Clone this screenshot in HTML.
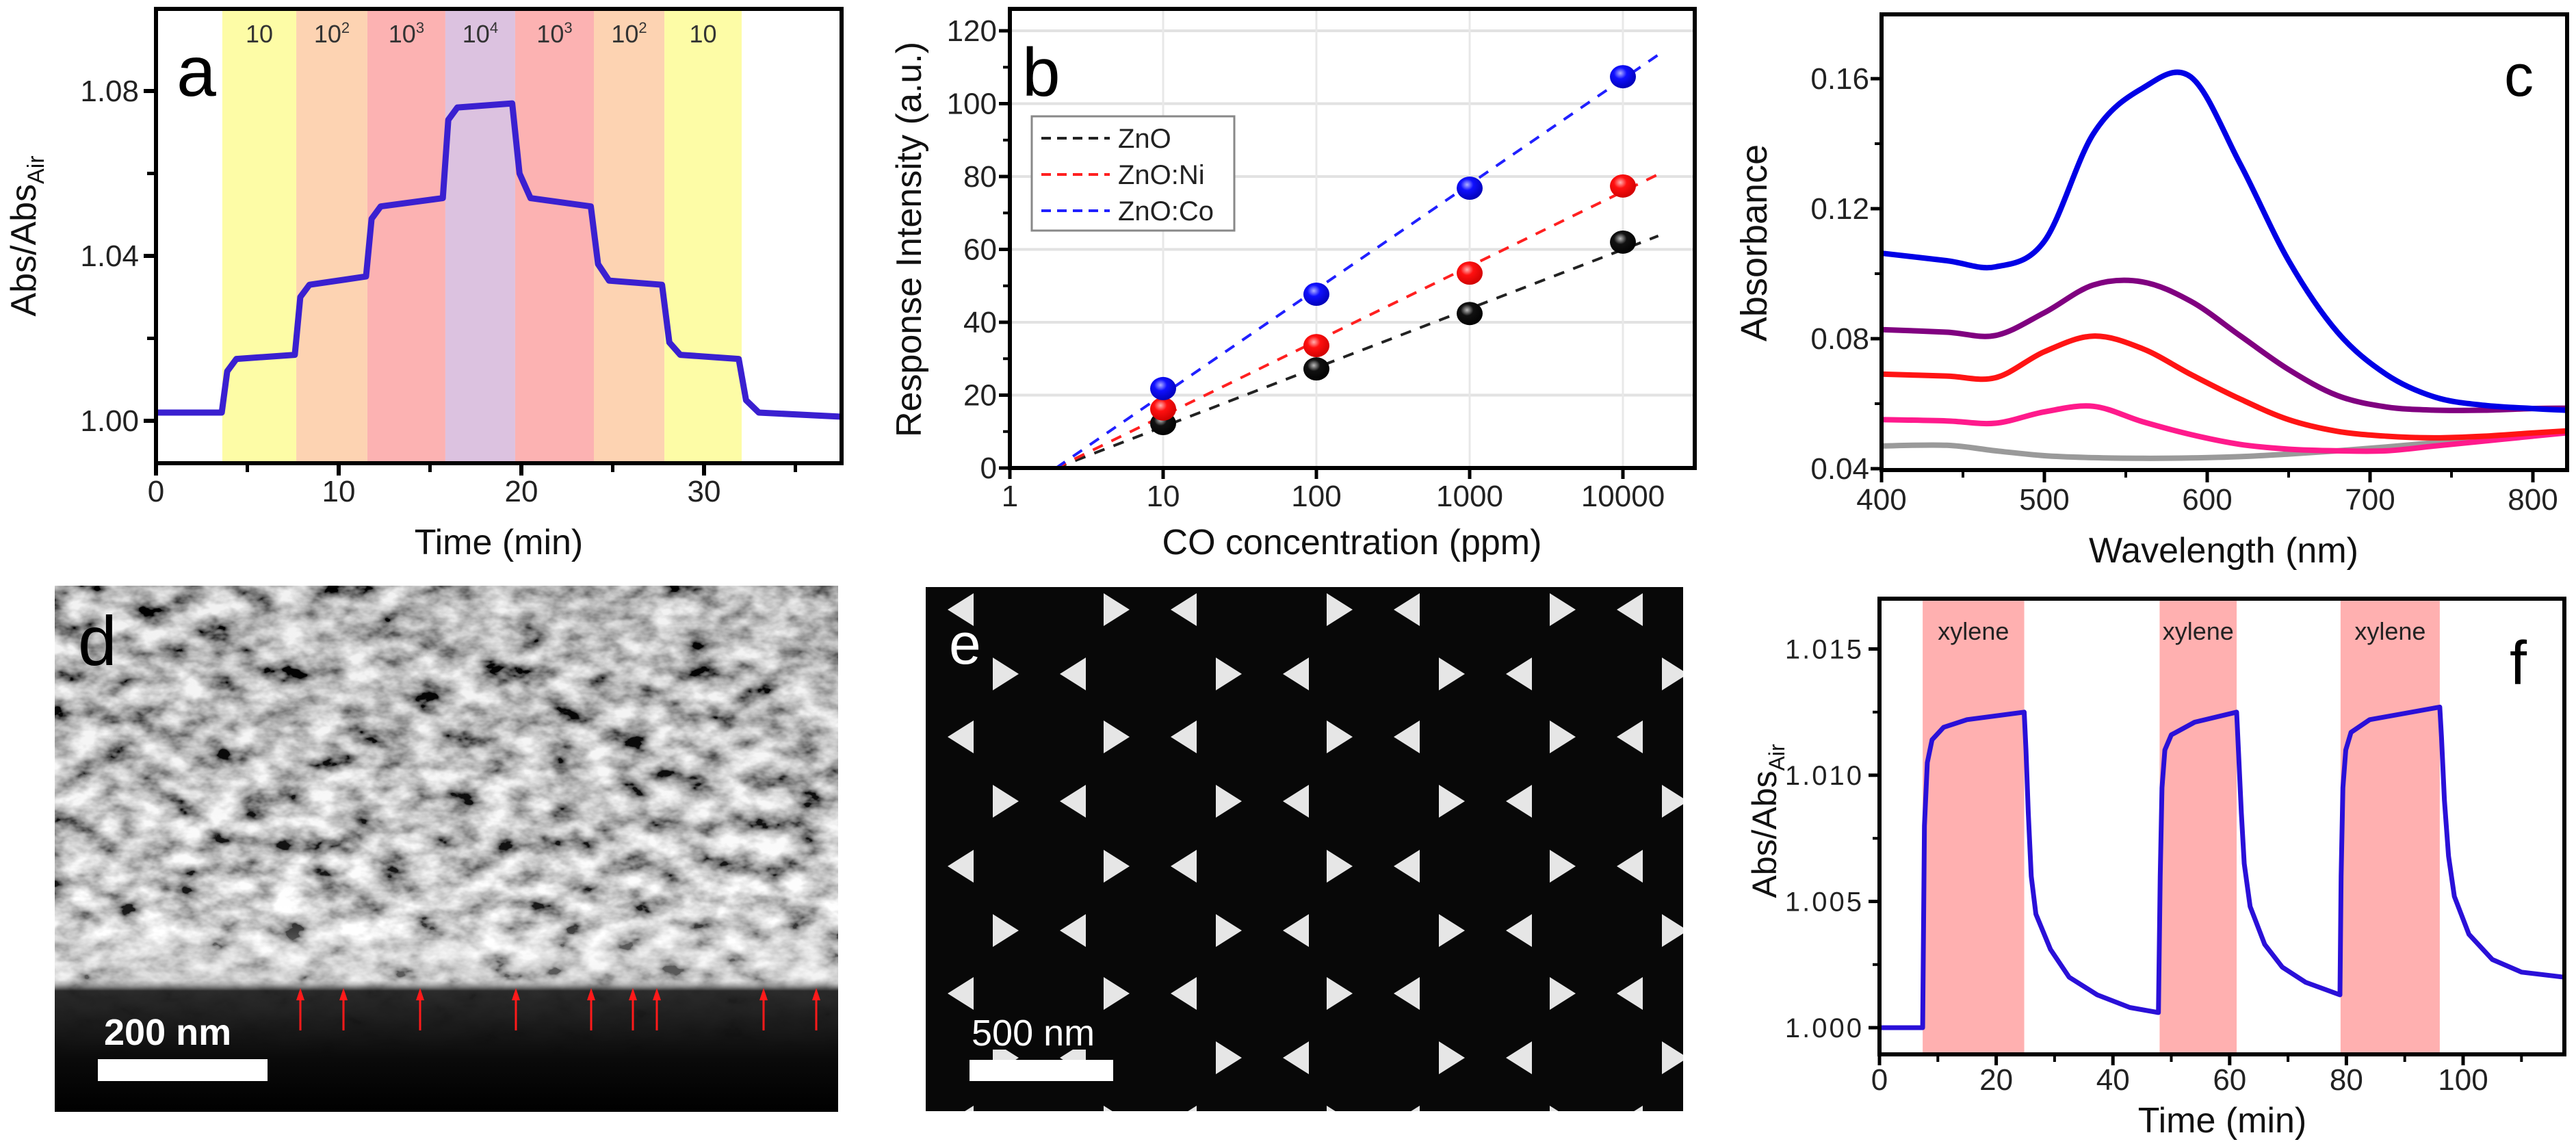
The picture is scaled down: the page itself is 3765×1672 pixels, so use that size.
<!DOCTYPE html>
<html><head><meta charset="utf-8"><title>Sensor figure</title>
<style>
html,body{margin:0;padding:0;background:#fff;}
svg{display:block;}
text{font-family:"Liberation Sans",sans-serif;}
.nar{font-family:"Liberation Sans Narrow","Liberation Sans",sans-serif;}
</style></head>
<body>
<svg id="fig" xmlns="http://www.w3.org/2000/svg" width="3765" height="1672" viewBox="0 0 3765 1672">
<defs>
<filter id="semNoise" x="0" y="0" width="100%" height="100%">
<feTurbulence type="fractalNoise" baseFrequency="0.02 0.032" numOctaves="4" seed="7"/>
<feColorMatrix type="matrix" values="1.9 0 0 0 -0.42  1.9 0 0 0 -0.42  1.9 0 0 0 -0.42  0 0 0 0 1"/>
</filter>
<linearGradient id="semShade" x1="0" y1="0" x2="0" y2="1">
<stop offset="0" stop-color="#000" stop-opacity="0.05"/>
<stop offset="0.62" stop-color="#fff" stop-opacity="0.1"/>
<stop offset="0.68" stop-color="#fff" stop-opacity="0.35"/>
<stop offset="0.75" stop-color="#ddd" stop-opacity="0.4"/>
<stop offset="0.77" stop-color="#222" stop-opacity="0.95"/>
<stop offset="0.9" stop-color="#0a0a0a" stop-opacity="1"/>
<stop offset="1" stop-color="#000" stop-opacity="1"/>
</linearGradient>
<radialGradient id="ballBlack" cx="0.4" cy="0.35" r="0.7"><stop offset="0" stop-color="#bbb"/><stop offset="0.35" stop-color="#111"/><stop offset="1" stop-color="#000"/></radialGradient>
<radialGradient id="ballRed" cx="0.4" cy="0.35" r="0.7"><stop offset="0" stop-color="#ffb0b0"/><stop offset="0.35" stop-color="#ff1010"/><stop offset="1" stop-color="#c00"/></radialGradient>
<radialGradient id="ballBlue" cx="0.4" cy="0.35" r="0.7"><stop offset="0" stop-color="#b0b0ff"/><stop offset="0.35" stop-color="#1010ff"/><stop offset="1" stop-color="#0000b0"/></radialGradient>
</defs>
</svg>
<script>
// ---------- Panel a data ----------
const aBandStart = [3.63, 7.68, 11.57, 15.84, 19.66, 23.97, 27.83];
const aBandEnd   = [7.68, 11.57, 15.84, 19.66, 23.97, 27.83, 32.06];
const aBandLabel = ["10","10|2","10|3","10|4","10|3","10|2","10"];
const aTime  = [0,3.6,3.9,4.4,7.6,7.9,8.4,11.5,11.8,12.3,15.7,16.0,16.5,19.5,19.9,20.5,23.8,24.2,24.8,27.7,28.1,28.7,31.9,32.3,33.0,37.5];
const aValue = [1.002,1.002,1.012,1.015,1.016,1.030,1.033,1.035,1.049,1.052,1.054,1.073,1.076,1.077,1.060,1.054,1.052,1.038,1.034,1.033,1.019,1.016,1.015,1.005,1.002,1.001];
const aXTicks = [0,10,20,30];
const aYTicks = [1.00,1.04,1.08];
const aYTickLabels = ["1.00","1.04","1.08"];
// ---------- Panel b data ----------
const bConc = [10,100,1000,10000];
const bZnO  = [12.2,27.2,42.4,62.0];
const bNi   = [16.2,33.6,53.5,77.4];
const bCo   = [21.8,47.7,76.8,107.4];
const bFitStart = [2,2,2];
const bFitEnd = [17000,17000,17000];
const bFitEndValue = [63.7,80.6,113.4];
const bSeriesNames = ["ZnO","ZnO:Ni","ZnO:Co"];
const bXTicks = [1,10,100,1000,10000];
const bYTicks = [0,20,40,60,80,100,120];
// ---------- Panel c data ----------
const cWave   = [400,440,470,500,530,560,590,620,650,680,710,740,770,800,820];
const cBlue   = [0.1063,0.1040,0.1021,0.1100,0.1430,0.1570,0.1605,0.1340,0.1040,0.0820,0.0690,0.0620,0.0595,0.0585,0.0580];
const cPurple = [0.0828,0.0820,0.0810,0.0880,0.0965,0.0975,0.0915,0.0810,0.0705,0.0625,0.0590,0.0580,0.0580,0.0585,0.0586];
const cRed    = [0.0691,0.0685,0.0680,0.0760,0.0808,0.0770,0.0690,0.0615,0.0551,0.0515,0.0500,0.0495,0.0500,0.0510,0.0516];
const cPink   = [0.0551,0.0547,0.0540,0.0575,0.0592,0.0545,0.0505,0.0475,0.0460,0.0455,0.0455,0.0470,0.0485,0.0500,0.0510];
const cGray   = [0.0470,0.0472,0.0455,0.0440,0.0434,0.0432,0.0433,0.0437,0.0445,0.0455,0.0467,0.0480,0.0492,0.0505,0.0514];
const cXTicks = [400,500,600,700,800];
const cYTicks = [0.04,0.08,0.12,0.16];
// ---------- Panel f data ----------
const fBandStart = [7.4, 48.0, 79.0];
const fBandEnd   = [24.8, 61.2, 96.0];
const fTime  = [0,7.4,7.7,8.2,9,11,15,24.8,25.1,25.5,26,26.8,29.3,32.5,37.3,42.9,47.8,48.1,48.4,48.9,50,54,61.2,61.5,62,62.5,63.5,66,69,73,78.9,79.1,79.4,79.9,80.8,84,96,96.3,96.8,97.5,98.5,101,105,110,117.3];
const fValue = [1.0000,1.0000,1.0080,1.0105,1.0114,1.0119,1.0122,1.0125,1.0110,1.0085,1.0060,1.0045,1.0031,1.0020,1.0013,1.0008,1.0006,1.0060,1.0095,1.0110,1.0116,1.0121,1.0125,1.0110,1.0085,1.0065,1.0048,1.0033,1.0024,1.0018,1.0013,1.0060,1.0095,1.0110,1.0117,1.0122,1.0127,1.0115,1.0090,1.0068,1.0052,1.0037,1.0027,1.0022,1.0020];
const fXTicks = [0,20,40,60,80,100];
const fYTicks = [1.000,1.005,1.010,1.015];
const fYTickLabels = ["1.000","1.005","1.010","1.015"];

const NS = "http://www.w3.org/2000/svg";
const svg = document.getElementById("fig");
function mk(tag, attrs, parent){
  const e = document.createElementNS(NS, tag);
  for (const k in attrs) e.setAttribute(k, attrs[k]);
  (parent || svg).appendChild(e);
  return e;
}
function grp(parent){ return mk("g", {}, parent); }

const xa = t => 228 + t * 26.7;
const ya = v => 615 - (v - 1.00) / 0.04 * 241;
const xb = c => 1476 + Math.log10(c) * 224;
const yb = v => 684 - v * 5.325;
const xc = w => 2750 + (w - 400) * 2.38;
const yc = a => 685 - (a - 0.04) * 4750;
const xf = t => 2747 + t * 8.53;
const yf = v => 1502 - (v - 1) / 0.005 * 184.5;

function poly(xs, ys, fx, fy){ return xs.map((x,i)=> fx(x).toFixed(1)+","+fy(ys[i]).toFixed(1)).join(" "); }
function smoothPath(xs, ys, fx, fy){
  const P = xs.map((x,i)=>[fx(x), fy(ys[i])]);
  let d = "M"+P[0][0]+","+P[0][1];
  for (let i=0;i<P.length-1;i++){
    const p0=P[Math.max(0,i-1)], p1=P[i], p2=P[i+1], p3=P[Math.min(P.length-1,i+2)];
    const c1=[p1[0]+(p2[0]-p0[0])/6, p1[1]+(p2[1]-p0[1])/6];
    const c2=[p2[0]-(p3[0]-p1[0])/6, p2[1]-(p3[1]-p1[1])/6];
    d += " C"+c1[0].toFixed(1)+","+c1[1].toFixed(1)+" "+c2[0].toFixed(1)+","+c2[1].toFixed(1)+" "+p2[0].toFixed(1)+","+p2[1].toFixed(1);
  }
  return d;
}

// ================= PANEL A =================
const gA = grp();


const bandColors = {"10":"#fdfca6","10|2":"#fdd3b2","10|3":"#fcb2b2","10|4":"#dcc2e0"};
aBandStart.forEach((s,i)=>{
  const r = mk("rect",{x:xa(s),y:13,width:xa(aBandEnd[i])-xa(s),height:664,fill:bandColors[aBandLabel[i]]},gA);
  
  
  const parts = aBandLabel[i].split("|");
  const t = mk("text",{x:(xa(s)+xa(aBandEnd[i]))/2,y:62,"font-size":36,"text-anchor":"middle",fill:"#333",class:"nar"},gA);
  
  
  t.appendChild(document.createTextNode(parts[0]));
  if (parts[1]) { const sp = mk("tspan",{dy:-14,"font-size":22},t); sp.textContent = parts[1]; }
});
const lineA = mk("polyline",{points:poly(aTime,aValue,xa,ya),fill:"none",stroke:"#3a20d0","stroke-width":9,"stroke-linejoin":"round"},gA);


const frameA = mk("rect",{x:228,y:13,width:1002,height:664,fill:"none",stroke:"#000","stroke-width":6},gA);


aXTicks.forEach(t=>{
  mk("line",{x1:xa(t),x2:xa(t),y1:677,y2:695,stroke:"#000","stroke-width":6},gA);
  const l = mk("text",{x:xa(t),y:733,"font-size":44,"text-anchor":"middle",fill:"#222"},gA);
  
  
  l.textContent = t;
});
[5,15,25,35].forEach(t=>mk("line",{x1:xa(t),x2:xa(t),y1:677,y2:690,stroke:"#000","stroke-width":5},gA));
aYTicks.forEach((v,i)=>{
  mk("line",{x1:210,x2:228,y1:ya(v),y2:ya(v),stroke:"#000","stroke-width":6},gA);
  const l = mk("text",{x:203,y:ya(v)+15,"font-size":44,"text-anchor":"end",fill:"#222"},gA);
  
  
  l.textContent = aYTickLabels[i];
});
[1.02,1.06].forEach(v=>mk("line",{x1:215,x2:228,y1:ya(v),y2:ya(v),stroke:"#000","stroke-width":5},gA));
const aXT = mk("text",{x:729,y:810,"font-size":52,"text-anchor":"middle",fill:"#111"},gA);


aXT.textContent = "Time (min)";
const aYT = mk("text",{x:0,y:0,"font-size":52,"text-anchor":"middle",fill:"#111",transform:"translate(52,345) rotate(-90)"},gA);


aYT.appendChild(document.createTextNode("Abs/Abs"));
{ const s = mk("tspan",{dy:12,"font-size":34},aYT); s.textContent = "Air"; }
const aLab = mk("text",{x:258,y:140,"font-size":104,fill:"#000"},gA);


aLab.textContent = "a";

// ================= PANEL B =================
const gB = grp();


bYTicks.slice(1).forEach(v=>mk("line",{x1:1476,x2:2477,y1:yb(v),y2:yb(v),stroke:"#e2e2e2","stroke-width":4},gB));
bXTicks.slice(1).forEach(c=>mk("line",{x1:xb(c),x2:xb(c),y1:13,y2:684,stroke:"#e8e8e8","stroke-width":3},gB));
const bColors = ["#222","#ff2020","#2020ff"];
const bData = [bZnO,bNi,bCo];
const bBalls = ["url(#ballBlack)","url(#ballRed)","url(#ballBlue)"];
bData.forEach((arr,si)=>{
  const fl = mk("line",{x1:xb(bFitStart[si]),y1:yb(0),x2:xb(bFitEnd[si]),y2:yb(bFitEndValue[si]),stroke:bColors[si],"stroke-width":4,"stroke-dasharray":"16 14"},gB);
  
  
});
bData.forEach((arr,si)=>{
  arr.forEach((v,i)=>{
    const c = mk("ellipse",{cx:xb(bConc[i]),cy:yb(v),rx:19,ry:17,fill:bBalls[si]},gB);
    
    
  });
});
const frameB = mk("rect",{x:1476,y:13,width:1001,height:671,fill:"none",stroke:"#000","stroke-width":6},gB);


bYTicks.forEach(v=>{
  mk("line",{x1:1460,x2:1476,y1:yb(v),y2:yb(v),stroke:"#000","stroke-width":5},gB);
  const l = mk("text",{x:1457,y:yb(v)+15,"font-size":44,"text-anchor":"end",fill:"#222",class:"nar"},gB);
  
  
  l.textContent = v;
});
[10,30,50,70,90,110].forEach(v=>mk("line",{x1:1466,x2:1476,y1:yb(v),y2:yb(v),stroke:"#000","stroke-width":4},gB));
bXTicks.forEach(c=>{
  mk("line",{x1:xb(c),x2:xb(c),y1:684,y2:700,stroke:"#000","stroke-width":5},gB);
  const l = mk("text",{x:xb(c),y:740,"font-size":44,"text-anchor":"middle",fill:"#222",class:"nar"},gB);
  
  
  l.textContent = c;
});
const legB = mk("rect",{x:1508,y:170,width:296,height:167,fill:"#fff",stroke:"#888","stroke-width":3},gB);


bSeriesNames.forEach((n,i)=>{
  const y = 202 + i*53;
  const ls = mk("line",{x1:1522,x2:1622,y1:y,y2:y,stroke:bColors[i],"stroke-width":4,"stroke-dasharray":"14 9"},gB);
  
  
  const lt = mk("text",{x:1634,y:y+14,"font-size":40,fill:"#222",class:"nar"},gB);
  
  
  lt.textContent = n;
});
const bXT = mk("text",{x:1976,y:810,"font-size":52,"text-anchor":"middle",fill:"#111",class:"nar"},gB);


bXT.textContent = "CO concentration (ppm)";
const bYT = mk("text",{x:0,y:0,"font-size":52,"text-anchor":"middle",fill:"#111",transform:"translate(1346,350) rotate(-90)"},gB);


bYT.textContent = "Response Intensity (a.u.)";
const bLab = mk("text",{x:1494,y:140,"font-size":100,fill:"#000"},gB);


bLab.textContent = "b";

// ================= PANEL C =================
const gC = grp();


const cSeries = [cGray,cPink,cRed,cPurple,cBlue];
const cColors = ["#9a9a9a","#ff1a8c","#ff1414","#800080","#0000e6"];
const cNames = ["spectrum-gray","spectrum-pink","spectrum-red","spectrum-purple","spectrum-blue"];
cSeries.forEach((s,i)=>{
  const p = mk("path",{d:smoothPath(cWave,s,xc,yc),fill:"none",stroke:cColors[i],"stroke-width":8},gC);
  
  
});
const frameC = mk("rect",{x:2750,y:21,width:1002,height:666,fill:"none",stroke:"#000","stroke-width":6},gC);


cYTicks.forEach(v=>{
  mk("line",{x1:2734,x2:2750,y1:yc(v),y2:yc(v),stroke:"#000","stroke-width":5},gC);
  const l = mk("text",{x:2732,y:yc(v)+15,"font-size":44,"text-anchor":"end",fill:"#222",class:"nar"},gC);
  
  
  l.textContent = v.toFixed(2);
});
[0.06,0.10,0.14].forEach(v=>mk("line",{x1:2740,x2:2750,y1:yc(v),y2:yc(v),stroke:"#000","stroke-width":4},gC));
cXTicks.forEach(w=>{
  mk("line",{x1:xc(w),x2:xc(w),y1:687,y2:705,stroke:"#000","stroke-width":5},gC);
  const l = mk("text",{x:xc(w),y:745,"font-size":44,"text-anchor":"middle",fill:"#222",class:"nar"},gC);
  
  
  l.textContent = w;
});
[450,550,650,750].forEach(w=>mk("line",{x1:xc(w),x2:xc(w),y1:687,y2:698,stroke:"#000","stroke-width":4},gC));
const cXT = mk("text",{x:3250,y:822,"font-size":52,"text-anchor":"middle",fill:"#111",class:"nar"},gC);


cXT.textContent = "Wavelength (nm)";
const cYT = mk("text",{x:0,y:0,"font-size":54,"text-anchor":"middle",fill:"#111",transform:"translate(2582,355) rotate(-90)"},gC);


cYT.textContent = "Absorbance";
const cLab = mk("text",{x:3660,y:140,"font-size":86,fill:"#000",class:"nar"},gC);


cLab.textContent = "c";

// ================= PANEL D =================
const gD = grp();


mk("rect",{x:80,y:856,width:1145,height:769,fill:"#999"},gD);
mk("rect",{x:80,y:856,width:1145,height:769,filter:"url(#semNoise)"},gD);
mk("rect",{x:80,y:856,width:1145,height:769,fill:"url(#semShade)"},gD);
const arrowX = [439,502,614,754,864,925,960,1116,1193];
arrowX.forEach(x=>{
  const a = grp(gD);
  
  
  mk("line",{x1:x,x2:x,y1:1506,y2:1456,stroke:"#ff1a1a","stroke-width":3},a);
  mk("polygon",{points:(x-6)+",1462 "+x+",1444 "+(x+6)+",1462",fill:"#ff1a1a"},a);
});
const dBar = mk("rect",{x:143,y:1548,width:248,height:32,fill:"#fff"},gD);


const dBT = mk("text",{x:152,y:1527,"font-size":54,"font-weight":"bold",fill:"#fff",class:"nar"},gD);


dBT.textContent = "200 nm";
const dLab = mk("text",{x:114,y:972,"font-size":102,fill:"#000"},gD);


dLab.textContent = "d";

// ================= PANEL E =================
const gE = grp();


mk("rect",{x:1353,y:858,width:1107,height:766,fill:"#080808"},gE);
const clipE = mk("clipPath",{id:"clipE"},svg.querySelector("defs"));
mk("rect",{x:1353,y:858,width:1107,height:766},clipE);
const triG = mk("g",{"clip-path":"url(#clipE)",fill:"#e6e6e6"},gE);
const rowY = [891,985,1077,1171,1266,1360,1452,1546,1640];
rowY.forEach((y,ri)=>{
  const off = (ri%2===0) ? 1631 : 1469;
  for (let k=-2;k<5;k++){
    const xr = off + k*326, xl = xr + 100;
    const tr = mk("polygon",{points:(xr-18)+","+(y-24)+" "+(xr+20)+","+y+" "+(xr-18)+","+(y+24)},triG);
    
    
    const tl = mk("polygon",{points:(xl+18)+","+(y-24)+" "+(xl-20)+","+y+" "+(xl+18)+","+(y+24)},triG);
    
    
  }
});
mk("rect",{x:1353,y:1486,width:290,height:48,fill:"#080808"},gE);
const eBar = mk("rect",{x:1417,y:1549,width:210,height:31,fill:"#fff"},gE);


const eBT = mk("text",{x:1420,y:1528,"font-size":54,fill:"#fff",class:"nar"},gE);


eBT.textContent = "500 nm";
const eLab = mk("text",{x:1387,y:970,"font-size":84,fill:"#fff"},gE);


eLab.textContent = "e";

// ================= PANEL F =================
const gF = grp();


fBandStart.forEach((s,i)=>{
  const r = mk("rect",{x:xf(s),y:875,width:xf(fBandEnd[i])-xf(s),height:666,fill:"#ffb0b0"},gF);
  
  
  const t = mk("text",{x:(xf(s)+xf(fBandEnd[i]))/2,y:935,"font-size":36,"text-anchor":"middle",fill:"#222"},gF);
  
  
  t.textContent = "xylene";
});
const lineF = mk("polyline",{points:poly(fTime,fValue,xf,yf),fill:"none",stroke:"#2a10d8","stroke-width":7,"stroke-linejoin":"round"},gF);


const frameF = mk("rect",{x:2747,y:875,width:1001,height:666,fill:"none",stroke:"#000","stroke-width":6},gF);


fYTicks.forEach((v,i)=>{
  mk("line",{x1:2731,x2:2747,y1:yf(v),y2:yf(v),stroke:"#000","stroke-width":5},gF);
  const l = mk("text",{x:2724,y:yf(v)+14,"font-size":40,"text-anchor":"end",fill:"#222","letter-spacing":3},gF);
  
  
  l.textContent = fYTickLabels[i];
});
[1.0025,1.0075,1.0125].forEach(v=>mk("line",{x1:2737,x2:2747,y1:yf(v),y2:yf(v),stroke:"#000","stroke-width":4},gF));
fXTicks.forEach(t=>{
  mk("line",{x1:xf(t),x2:xf(t),y1:1541,y2:1557,stroke:"#000","stroke-width":5},gF);
  const l = mk("text",{x:xf(t),y:1593,"font-size":44,"text-anchor":"middle",fill:"#222",class:"nar"},gF);
  
  
  l.textContent = t;
});
[10,30,50,70,90,110].forEach(t=>mk("line",{x1:xf(t),x2:xf(t),y1:1541,y2:1552,stroke:"#000","stroke-width":4},gF));
const fXT = mk("text",{x:3248,y:1655,"font-size":52,"text-anchor":"middle",fill:"#111",class:"nar"},gF);


fXT.textContent = "Time (min)";
const fYT = mk("text",{x:0,y:0,"font-size":50,"text-anchor":"middle",fill:"#111",transform:"translate(2596,1200) rotate(-90)"},gF);


fYT.appendChild(document.createTextNode("Abs/Abs"));
{ const s = mk("tspan",{dy:12,"font-size":32},fYT); s.textContent = "Air"; }
const fLab = mk("text",{x:3668,y:1000,"font-size":90,fill:"#000",class:"nar"},gF);


fLab.textContent = "f";
</script>
</body></html>
